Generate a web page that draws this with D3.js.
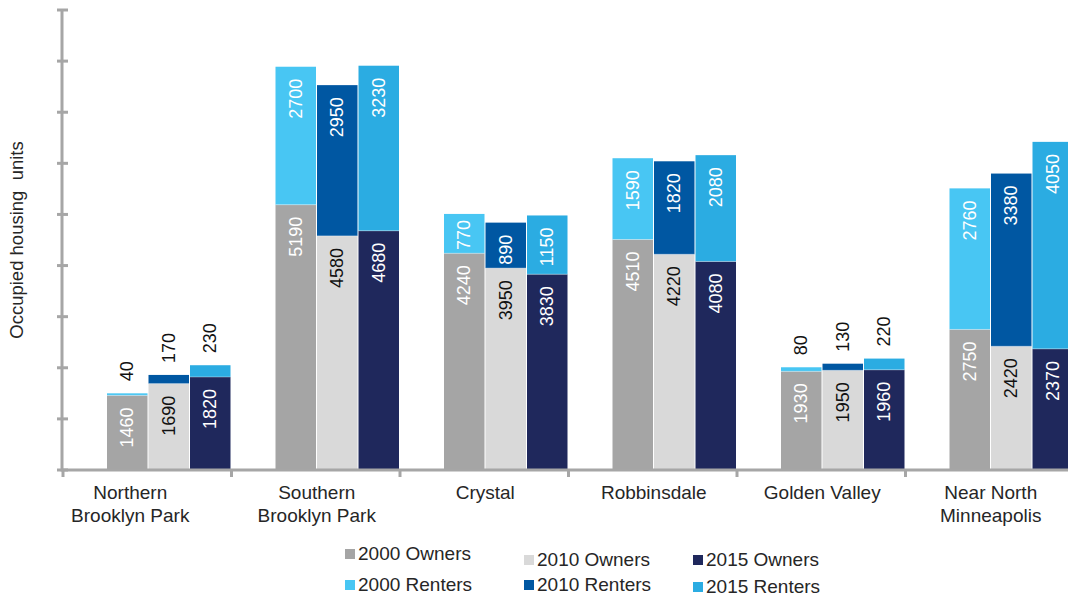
<!DOCTYPE html>
<html><head><meta charset="utf-8">
<script src="https://cdn.jsdelivr.net/npm/d3@7"></script>
<style>body{margin:0;background:#fff}svg{display:block;font-family:"Liberation Sans",Arial,sans-serif}</style>
</head><body><svg id="c" width="1068" height="597"></svg>
<script>
const categories = [["Northern","Brooklyn Park"],["Southern","Brooklyn Park"],["Crystal"],["Robbinsdale"],["Golden Valley"],["Near North","Minneapolis"]];
const years = ["2000","2010","2015"];
const owners2000 = [1460,5190,4240,4510,1930,2750];
const owners2010 = [1690,4580,3950,4220,1950,2420];
const owners2015 = [1820,4680,3830,4080,1960,2370];
const renters2000 = [40,2700,770,1590,80,2760];
const renters2010 = [170,2950,890,1820,130,3380];
const renters2015 = [230,3230,1150,2080,220,4050];
const yTicks = [0,1000,2000,3000,4000,5000,6000,7000,8000,9000];
const legendLabels = ["2000 Owners","2010 Owners","2015 Owners","2000 Renters","2010 Renters","2015 Renters"];
const ownerColors = ["#A5A5A5","#D9D9D9","#1F285C"];
const renterColors = ["#48C6F3","#0057A2","#2BACE2"];
const ownerLabelColors = ["#ffffff","#111111","#ffffff"];

const svg = d3.select("#c");
const axisColor = "#A6A6A6";
const x0 = 63, catW = 168.5;
const xCat = d3.scaleBand().domain(d3.range(categories.length)).range([x0, x0 + catW*categories.length]).padding(0);
const y = d3.scaleLinear().domain([0,9000]).range([470,10]);
const barStep = 41.5, barW = 40.5;
const groupOffset = catW - barStep*3;

const owners = [owners2000, owners2010, owners2015];
const renters = [renters2000, renters2010, renters2015];

const g = svg.append("g");
categories.forEach((cat, ci) => {
  years.forEach((yr, yi) => {
    const bx = xCat(ci) + groupOffset + yi*barStep;
    const o = owners[yi][ci], r = renters[yi][ci];
    g.append("rect").attr("x", bx).attr("width", barW)
      .attr("y", y(o)).attr("height", y(0)-y(o)).attr("fill", ownerColors[yi]);
    g.append("rect").attr("x", bx).attr("width", barW)
      .attr("y", y(o+r)).attr("height", y(o)-y(o+r)).attr("fill", renterColors[yi]);
    g.append("line").attr("x1", bx).attr("x2", bx+barW).attr("y1", y(o)).attr("y2", y(o))
      .attr("stroke","#ffffff").attr("stroke-opacity",0.35).attr("stroke-width",1);
    const cx = bx + barW/2;
    g.append("text").attr("transform", `translate(${cx},${y(o)+12}) rotate(-90)`)
      .attr("text-anchor","end").attr("dominant-baseline","central")
      .attr("font-size",18).attr("fill", ownerLabelColors[yi]).text(o);
    const segH = y(o)-y(o+r);
    if (segH > 40) {
      g.append("text").attr("transform", `translate(${cx},${y(o+r)+12}) rotate(-90)`)
        .attr("text-anchor","end").attr("dominant-baseline","central")
        .attr("font-size",18).attr("fill","#ffffff").text(r);
    } else if (segH > 25) {
      g.append("text").attr("transform", `translate(${cx},${y(o+r)+6}) rotate(-90)`)
        .attr("text-anchor","end").attr("dominant-baseline","central")
        .attr("font-size",18).attr("fill","#ffffff").text(r);
    } else {
      g.append("text").attr("transform", `translate(${cx},${y(o+r)-12}) rotate(-90)`)
        .attr("text-anchor","start").attr("dominant-baseline","central")
        .attr("font-size",18).attr("fill","#111111").text(r);
    }
  });
});

// Y axis
svg.append("line").attr("x1",62).attr("x2",62).attr("y1",y(9000)).attr("y2",y(0)+1.5)
  .attr("stroke",axisColor).attr("stroke-width",3);
svg.selectAll(".yt").data(yTicks).enter().append("line")
  .attr("x1",57).attr("x2",68).attr("y1",d=>y(d)).attr("y2",d=>y(d))
  .attr("stroke",axisColor).attr("stroke-width",3);
// X axis
svg.append("line").attr("x1",62).attr("x2",1080).attr("y1",y(0)).attr("y2",y(0))
  .attr("stroke",axisColor).attr("stroke-width",3);
const bounds = d3.range(categories.length+1).map(i => x0 + i*catW);
svg.selectAll(".xt").data(bounds).enter().append("line")
  .attr("x1",d=>d).attr("x2",d=>d).attr("y1",y(0)).attr("y2",y(0)+7)
  .attr("stroke",axisColor).attr("stroke-width",3);

// Category labels
categories.forEach((cat, ci) => {
  const cxl = xCat(ci) + catW/2 + (ci === 0 ? -17 : 1);
  const t = svg.append("text").attr("x", cxl).attr("y", 499)
    .attr("text-anchor","middle").attr("font-size",19).attr("fill","#262626");
  cat.forEach((line, li) => {
    t.append("tspan").attr("x", cxl).attr("dy", li===0?0:23).text(line);
  });
});

// Y title
svg.append("text").attr("transform","translate(23,240) rotate(-90)")
  .attr("text-anchor","middle").attr("font-size",18.5).attr("fill","#262626")
  .attr("xml:space","preserve").text("Occupied housing  units");

// Legend
const legColors = [...ownerColors, ...renterColors];
const colX = [345, 524, 693];
const rowY = [[549,555,555],[580,580,582]];
legendLabels.forEach((lab, i) => {
  const row = Math.floor(i/3), col = i%3;
  const lx = colX[col], ly = rowY[row][col];
  svg.append("rect").attr("x",lx).attr("y",ly).attr("width",10).attr("height",10).attr("fill",legColors[i]);
  svg.append("text").attr("x",lx+13).attr("y",ly+11).attr("font-size",19).attr("fill","#262626").text(lab);
});
</script></body></html>
